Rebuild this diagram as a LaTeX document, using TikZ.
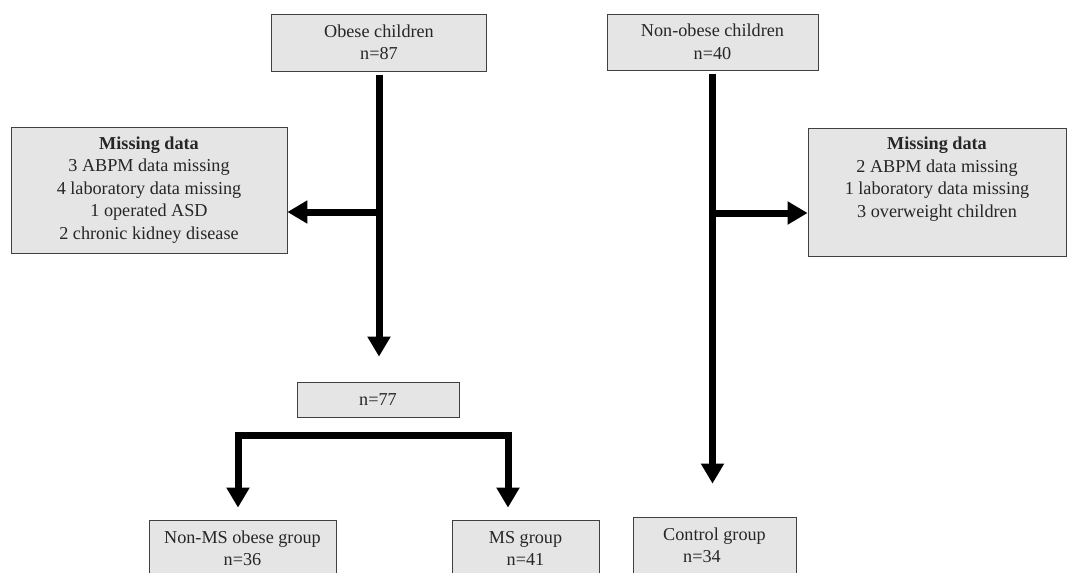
\documentclass[tikz,border=0pt]{standalone}
\usepackage{fontspec}
\setmainfont{Liberation Serif}
\usetikzlibrary{arrows.meta}

\tikzset{
    box/.style={draw=black!75, fill=black!10, line width=0.8pt, inner sep=0pt,
        align=center, text=black!85, font=\fontsize{18.2}{22.5}\selectfont},
    flow/.style={line width=7pt, -{Triangle[length=20pt,width=22pt]}}
}

\begin{document}
\begin{tikzpicture}[x=1pt,y=-1pt]
        \clip (0,0) rectangle (1069,573);

        % Draw the boxes
        \node[box, minimum width=215pt, minimum height=57pt] (obese) at (379,42.5) {Obese children\\n=87};
        \node[box, minimum width=211pt, minimum height=56pt] (nonobese) at (712.5,42) {Non-obese children\\n=40};
        \node[box, minimum width=276pt, minimum height=126pt] (miss1) at (149,190) {\textbf{Missing data}\\3 ABPM data missing\\4 laboratory data missing\\1 operated ASD\\2 chronic kidney disease};
        \node[box, minimum width=258pt, minimum height=128pt] (miss2) at (937,192) {\textbf{Missing data}\\2 ABPM data missing\\1 laboratory data missing\\3 overweight children\\\strut};
        \node[box, minimum width=162pt, minimum height=35pt] (n77) at (378,399.5) {n=77};
        \node[box, minimum width=187pt, minimum height=57pt] (nonms) at (242.5,548.5) {Non-MS obese group\\n=36};
        \node[box, minimum width=147pt, minimum height=57pt] (ms) at (525.5,548.5) {MS group\\n=41};
        \node[box, minimum width=163pt, minimum height=57pt] (control) at (714.5,545.5) {Control group\\n=34\hspace*{25pt}};

        % Branch points
        \coordinate (b1) at (379,212);
        \coordinate (b2) at (712.5,213);
        \coordinate (split) at (373,435);

        % Draw the arrows
        \draw[flow, shorten <=4pt, shorten >=25pt] (obese.south) -- (obese.south |- n77.north);
        \draw[flow] (b1) -- (b1 -| miss1.east);
        \draw[flow, shorten <=4pt, shorten >=33pt] (nonobese.south) -- (nonobese.south |- control.north);
        \draw[flow] (b2) -- (b2 -| miss2.west);
        \draw[flow, shorten >=12pt] (split) -| ([xshift=-4.5pt]nonms.north);
        \draw[flow, shorten >=12pt] (split) -| ([xshift=-17.5pt]ms.north);
    \end{tikzpicture}
\end{document}
